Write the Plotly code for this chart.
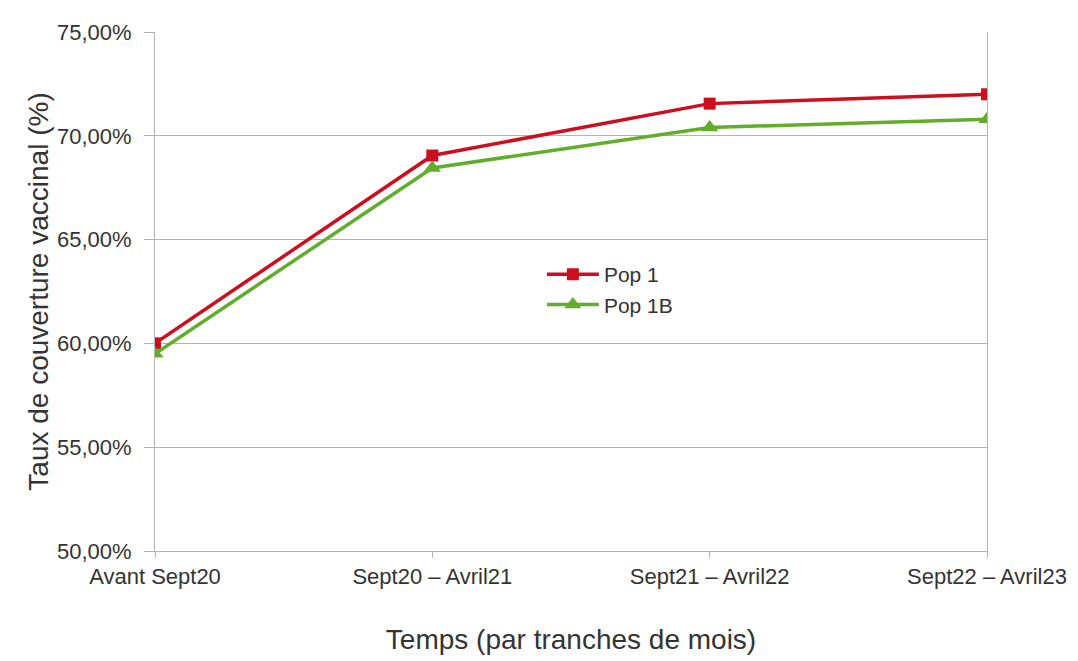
import plotly.graph_objects as go

categories = ["Avant Sept20", "Sept20 \u2013 Avril21", "Sept21 \u2013 Avril22", "Sept22 \u2013 Avril23"]
pop1 = [60.0, 69.05, 71.55, 72.0]
pop1b = [59.5, 68.45, 70.4, 70.8]
y_ticks = [50, 55, 60, 65, 70, 75]
y_ticktext = ["%.2f%%" % v for v in y_ticks]
y_ticktext = [t.replace(".", ",") for t in y_ticktext]

x_pos = list(range(len(categories)))

fig = go.Figure()
fig.add_trace(go.Scatter(x=x_pos, y=pop1, name="Pop 1", mode="lines+markers",
                         line=dict(color="#cc0e1e", width=3.5),
                         marker=dict(symbol="square", size=12, color="#cc0e1e")))
fig.add_trace(go.Scatter(x=x_pos, y=pop1b, name="Pop 1B", mode="lines+markers",
                         line=dict(color="#62ad2c", width=3.5),
                         marker=dict(symbol="triangle-up", size=15, color="#62ad2c")))

fig.update_layout(
    width=1078, height=661,
    margin=dict(l=147, r=99, t=17, b=118),
    plot_bgcolor="white", paper_bgcolor="white",
    font=dict(family="Liberation Sans, Arial, sans-serif", color="#333333", size=21),
    legend=dict(x=0.465, y=0.572, xanchor="left", yanchor="top",
                bgcolor="rgba(0,0,0,0)", font=dict(size=21), tracegroupgap=0,
                itemwidth=52),
    showlegend=True,
)

fig.update_xaxes(
    range=[0, len(categories) - 1],
    tickmode="array", tickvals=x_pos, ticktext=categories,
    tickfont=dict(size=22),
    showgrid=False, showline=True, linecolor="#b3b3b3", linewidth=1,
    ticks="outside", ticklen=6, tickcolor="#b3b3b3",
    title=dict(text="Temps (par tranches de mois)", font=dict(size=28), standoff=40),
)
fig.update_yaxes(
    range=[50, 75], tickmode="array", tickvals=y_ticks, ticktext=y_ticktext,
    tickfont=dict(size=22), ticklabelstandoff=8,
    showgrid=True, gridcolor="#b3b3b3", gridwidth=1,
    showline=True, linecolor="#b3b3b3", linewidth=1, mirror=True,
    ticks="outside", ticklen=10, tickcolor="#b3b3b3",
    zeroline=False,
    title=dict(text="Taux de couverture vaccinal (%)", font=dict(size=28), standoff=0),
)

fig.write_html("out.html")
